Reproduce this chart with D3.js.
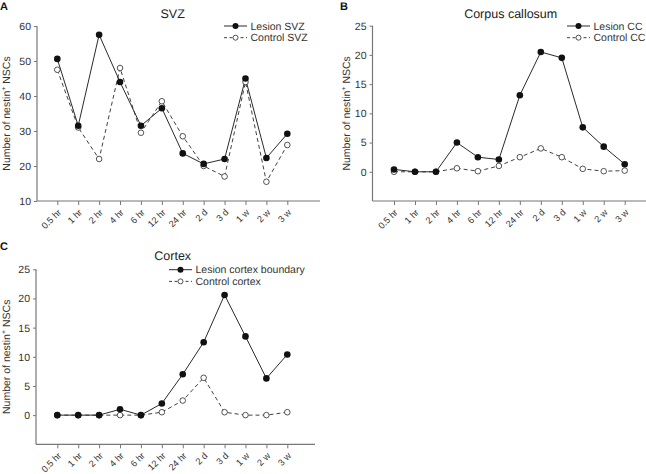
<!DOCTYPE html>
<html>
<head>
<meta charset="utf-8">
<script src="https://cdn.jsdelivr.net/npm/d3@7"></script>
<style>
  html, body { margin: 0; padding: 0; background: #fff; }
  svg { display: block; font-family: Arial, "Liberation Sans", sans-serif; text-rendering: geometricPrecision; }
</style>
</head>
<body>
<svg id="chart" width="646" height="474"></svg>
<script>
// ---- data ----
const categories = ["0.5 hr", "1 hr", "2 hr", "4 hr", "6 hr", "12 hr", "24 hr", "2 d", "3 d", "1 w", "2 w", "3 w"];

const svzLesion  = [50.6, 31.5, 57.5, 44.0, 31.5, 36.5, 23.6, 20.6, 22.0, 45.0, 22.3, 29.2];
const svzControl = [47.5, 31.0, 22.0, 48.0, 29.5, 38.5, 28.5, 20.0, 17.0, 44.0, 15.5, 26.0];

const ccLesion  = [0.4, 0.0, 0.0, 5.0, 2.5, 2.1, 13.1, 20.5, 19.5, 7.6, 4.3, 1.3];
const ccControl = [0.0, 0.0, 0.0, 0.6, 0.1, 1.0, 2.5, 4.0, 2.5, 0.5, 0.1, 0.2];

const ctxLesion  = [0.0, 0.0, 0.0, 1.0, 0.0, 2.0, 7.0, 12.5, 20.6, 13.5, 6.3, 10.4];
const ctxControl = [0.0, 0.0, 0.0, 0.0, 0.0, 0.5, 2.5, 6.4, 0.5, 0.0, 0.0, 0.5];

const svzTicks = [10, 20, 30, 40, 50, 60];
const ccTicks  = [0, 5, 10, 15, 20, 25];
const ctxTicks = [0, 5, 10, 15, 20, 25];

// ---- layout ----
const panels = [
  { letter: "A", title: "SVZ", lesion: svzLesion, control: svzControl,
    lesionName: "Lesion SVZ", controlName: "Control SVZ",
    yDomain: [10, 60], yTicks: svzTicks,
    axisX: 37, axisRight: 320, top: 26, bottom: 201,
    x0: 57.3, x1: 287.3, letterX: 0, letterY: 10,
    titleX: 172.7, titleY: 18, labelX: 9.5, legX: 224, legY: 26 },
  { letter: "B", title: "Corpus callosum", lesion: ccLesion, control: ccControl,
    lesionName: "Lesion CC", controlName: "Control CC",
    yDomain: [-5, 25], yTicks: ccTicks,
    axisX: 372.5, axisRight: 646, top: 25.7, bottom: 201,
    x0: 394, x1: 624.7, letterX: 340, letterY: 10,
    titleX: 510.7, titleY: 18, labelX: 349.5, legX: 567, legY: 26 },
  { letter: "C", title: "Cortex", lesion: ctxLesion, control: ctxControl,
    lesionName: "Lesion cortex boundary", controlName: "Control cortex",
    yDomain: [-5, 25], yTicks: ctxTicks,
    axisX: 36, axisRight: 315, top: 269.3, bottom: 444.3,
    x0: 57.3, x1: 287.3, letterX: 0, letterY: 250,
    titleX: 172.7, titleY: 260, labelX: 9.5, legX: 169, legY: 269.7 }
];

const svg = d3.select("#chart");
const axisColor = "#777";
const lineColor = "#2a2a2a";

panels.forEach(p => {
  const g = svg.append("g");
  const x = d3.scalePoint().domain(categories).range([p.x0, p.x1]);
  const y = d3.scaleLinear().domain(p.yDomain).range([p.bottom, p.top]);

  // axis lines
  g.append("line").attr("x1", p.axisX).attr("x2", p.axisX)
    .attr("y1", p.top).attr("y2", p.bottom)
    .attr("stroke", axisColor).attr("stroke-width", 1.2);
  g.append("line").attr("x1", p.axisX).attr("x2", p.axisRight)
    .attr("y1", p.bottom).attr("y2", p.bottom)
    .attr("stroke", axisColor).attr("stroke-width", 1.2);

  // y axis
  const ya = g.append("g").attr("transform", `translate(${p.axisX},0)`)
    .call(d3.axisLeft(y).tickValues(p.yTicks).tickSize(3).tickPadding(3));
  ya.select(".domain").remove();
  ya.selectAll(".tick line").attr("stroke", axisColor);
  ya.selectAll(".tick text").attr("fill", "#333").style("font-size", "10.5px")
    .style("font-family", "Arial, 'Liberation Sans', sans-serif");

  // x axis
  const xa = g.append("g").attr("transform", `translate(0,${p.bottom})`)
    .call(d3.axisBottom(x).tickSize(4).tickPadding(2));
  xa.select(".domain").remove();
  xa.selectAll(".tick line").attr("stroke", axisColor);
  xa.selectAll(".tick text")
    .attr("fill", "#333").style("font-size", "9.2px")
    .style("font-family", "Arial, 'Liberation Sans', sans-serif")
    .attr("text-anchor", "end")
    .attr("y", 0).attr("dy", 0)
    .attr("transform", "translate(4,12) rotate(-45)");

  // title
  g.append("text").attr("x", p.titleX).attr("y", p.titleY)
    .attr("text-anchor", "middle").attr("fill", "#222")
    .style("font-size", "12.5px").text(p.title);

  // panel letter
  g.append("text").attr("x", p.letterX).attr("y", p.letterY)
    .attr("fill", "#111").style("font-size", "11px").style("font-weight", "bold")
    .text(p.letter);

  // y label
  const lbl = g.append("text")
    .attr("transform", `translate(${p.labelX},${(p.top + p.bottom) / 2}) rotate(-90)`)
    .attr("text-anchor", "middle").attr("fill", "#333").style("font-size", "10.5px");
  lbl.append("tspan").text("Number of nestin");
  lbl.append("tspan").attr("dy", -4).style("font-size", "7px").text("+");
  lbl.append("tspan").attr("dy", 4).text(" NSCs");

  const line = d3.line().x((d, i) => x(categories[i])).y(d => y(d));

  // control
  g.append("path").datum(p.control).attr("d", line)
    .attr("fill", "none").attr("stroke", lineColor).attr("stroke-width", 0.9)
    .attr("stroke-dasharray", "4,3");
  // lesion
  g.append("path").datum(p.lesion).attr("d", line)
    .attr("fill", "none").attr("stroke", lineColor).attr("stroke-width", 1);

  g.selectAll(".ctl").data(p.control).enter().append("circle")
    .attr("cx", (d, i) => x(categories[i])).attr("cy", d => y(d))
    .attr("r", 2.8).attr("fill", "#fff").attr("stroke", lineColor).attr("stroke-width", 0.8);
  g.selectAll(".les").data(p.lesion).enter().append("circle")
    .attr("cx", (d, i) => x(categories[i])).attr("cy", d => y(d))
    .attr("r", 3.3).attr("fill", "#111");

  // legend
  const leg = g.append("g").attr("transform", `translate(${p.legX},${p.legY})`);
  leg.append("line").attr("x1", 0).attr("x2", 23).attr("y1", 0).attr("y2", 0)
    .attr("stroke", lineColor).attr("stroke-width", 1);
  leg.append("circle").attr("cx", 11.5).attr("cy", 0).attr("r", 3).attr("fill", "#111");
  leg.append("text").attr("x", 26.5).attr("y", 0).attr("dy", "0.35em")
    .attr("fill", "#333").style("font-size", "10.5px").text(p.lesionName);
  leg.append("line").attr("x1", 0).attr("x2", 23).attr("y1", 11.7).attr("y2", 11.7)
    .attr("stroke", lineColor).attr("stroke-width", 0.9).attr("stroke-dasharray", "3,2.5");
  leg.append("circle").attr("cx", 11.5).attr("cy", 11.7).attr("r", 2.5)
    .attr("fill", "#fff").attr("stroke", lineColor).attr("stroke-width", 0.8);
  leg.append("text").attr("x", 26.5).attr("y", 11.7).attr("dy", "0.35em")
    .attr("fill", "#333").style("font-size", "10.5px").text(p.controlName);
});
</script>
</body>
</html>
